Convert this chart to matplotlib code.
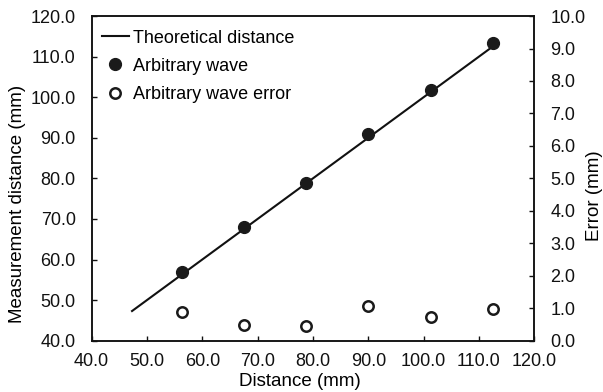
import matplotlib
matplotlib.use("Agg")
import matplotlib.pyplot as plt
from matplotlib.ticker import MultipleLocator, FormatStrFormatter

plt.rcParams['font.family'] = ['Liberation Sans', 'DejaVu Sans']

theory_x = [47.3, 113.3]
theory_y = [47.3, 113.3]
distance = [56.25, 67.5, 78.75, 90.0, 101.25, 112.5]
measured = [56.9, 67.9, 78.9, 90.9, 101.8, 113.3]
error = [0.87, 0.49, 0.44, 1.08, 0.72, 0.99]

fig = plt.figure(figsize=(6.03, 3.92), dpi=100)
ax = fig.add_axes([0.152, 0.131, 0.734, 0.828])
ax2 = ax.twinx()

l1, = ax.plot(theory_x, theory_y, color='#111111', lw=1.5, label='Theoretical distance')
l2, = ax.plot(distance, measured, 'o', color='#1a1a1a', ms=8.5, ls='none', label='Arbitrary wave')
l3, = ax2.plot(distance, error, 'o', mfc='white', mec='#1a1a1a', mew=1.8, ms=7.5, ls='none', label='Arbitrary wave error')

ax.set_xlim(40, 120)
ax.set_ylim(40, 120)
ax2.set_ylim(0, 10)
ax.xaxis.set_major_locator(MultipleLocator(10))
ax.yaxis.set_major_locator(MultipleLocator(10))
ax2.yaxis.set_major_locator(MultipleLocator(1))
for a in (ax, ax2):
    a.xaxis.set_major_formatter(FormatStrFormatter('%.1f'))
    a.yaxis.set_major_formatter(FormatStrFormatter('%.1f'))
    a.tick_params(direction='in', length=3.6, width=1, labelsize=13, colors='#111111')
    for s in a.spines.values():
        s.set_linewidth(1.1)
        s.set_color('#111111')
ax.tick_params(axis='y', pad=11.5)
ax2.tick_params(axis='y', pad=11.5)
ax.tick_params(axis='x', pad=9)

ax.set_xlabel('Distance (mm)', fontsize=13.5)
ax.xaxis.set_label_coords(0.4715, -0.125)
ax.xaxis.label.set_verticalalignment('center')
ax.set_ylabel('Measurement distance (mm)', fontsize=13.5)
ax.yaxis.set_label_coords(-0.167, 0.42)
ax.yaxis.label.set_verticalalignment('center')
ax2.set_ylabel('Error (mm)', fontsize=13.5)
ax2.yaxis.set_label_coords(1.137, 0.448)
ax2.yaxis.label.set_verticalalignment('center')

ax.legend(handles=[l1, l2, l3], loc='upper left', bbox_to_anchor=(-0.008, 1.0),
          frameon=False, fontsize=13,
          handlelength=1.5, handletextpad=0.25, labelspacing=0.62,
          borderaxespad=0.45, borderpad=0.3)

fig.savefig('out.png', dpi=100)
